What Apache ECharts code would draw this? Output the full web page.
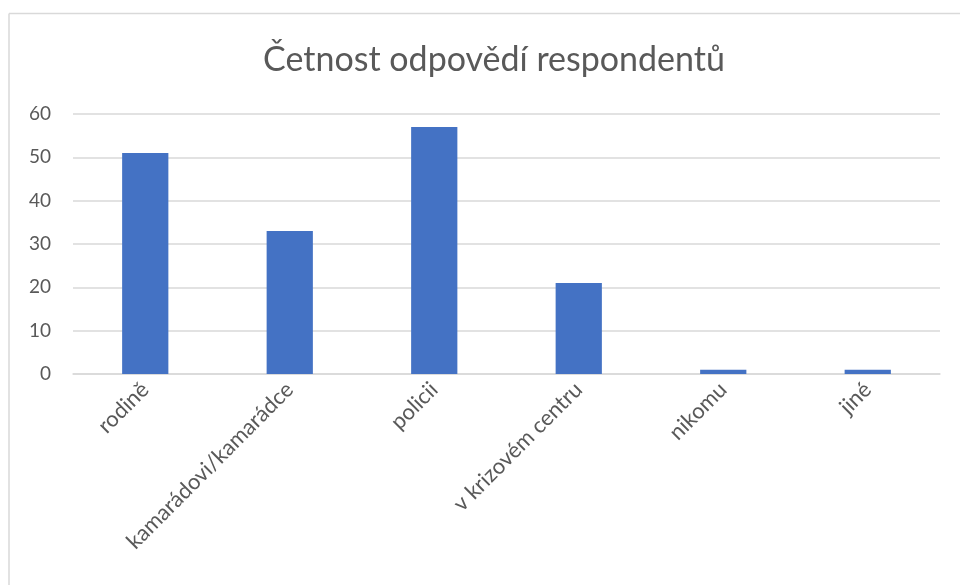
<!DOCTYPE html>
<html>
<head>
<meta charset="utf-8">
<script src="https://cdn.jsdelivr.net/npm/echarts@6/dist/echarts.min.js"></script>
<style>html,body{margin:0;padding:0;background:#fff}#c{width:960px;height:585px}</style>
</head>
<body>
<div id="c"></div>
<script>
const categories = ['rodině', 'kamarádovi/kamarádce', 'policii', 'v krizovém centru', 'nikomu', 'jiné'];
const values = [51, 33, 57, 21, 1, 1];
const titleText = 'Četnost odpovědí respondentů';

const chart = echarts.init(document.getElementById('c'));
chart.setOption({
  animation: false,
  backgroundColor: '#fff',
  graphic: [
    { type: 'line', shape: { x1: 9, y1: 13.5, x2: 960, y2: 13.5 }, style: { stroke: '#d9d9d9', lineWidth: 1.5 } },
    { type: 'line', shape: { x1: 9, y1: 13.5, x2: 9, y2: 585 }, style: { stroke: '#d9d9d9', lineWidth: 1.5 } }
  ],
  title: {
    text: titleText,
    left: 489,
    textAlign: 'center',
    top: 38,
    textStyle: { fontFamily: 'Lato', fontWeight: 'normal', fontSize: 34, color: '#595959' }
  },
  grid: { left: 73, right: 20, top: 114, bottom: 211, containLabel: false },
  xAxis: {
    type: 'category',
    data: categories,
    axisTick: { show: false },
    axisLine: { lineStyle: { color: '#d9d9d9', width: 1.5 } },
    axisLabel: { rotate: 45, color: '#595959', fontSize: 22, fontFamily: 'Lato', margin: 12, interval: 0 }
  },
  yAxis: {
    type: 'value',
    min: 0, max: 60, interval: 10,
    axisLine: { show: false },
    axisTick: { show: false },
    splitLine: { lineStyle: { color: '#d9d9d9', width: 1.5 } },
    axisLabel: { color: '#595959', fontSize: 19, fontFamily: 'Lato', margin: 22 }
  },
  series: [{
    type: 'bar',
    data: values,
    barWidth: '32%',
    itemStyle: { color: '#4472C4' }
  }]
});
</script>
</body>
</html>
